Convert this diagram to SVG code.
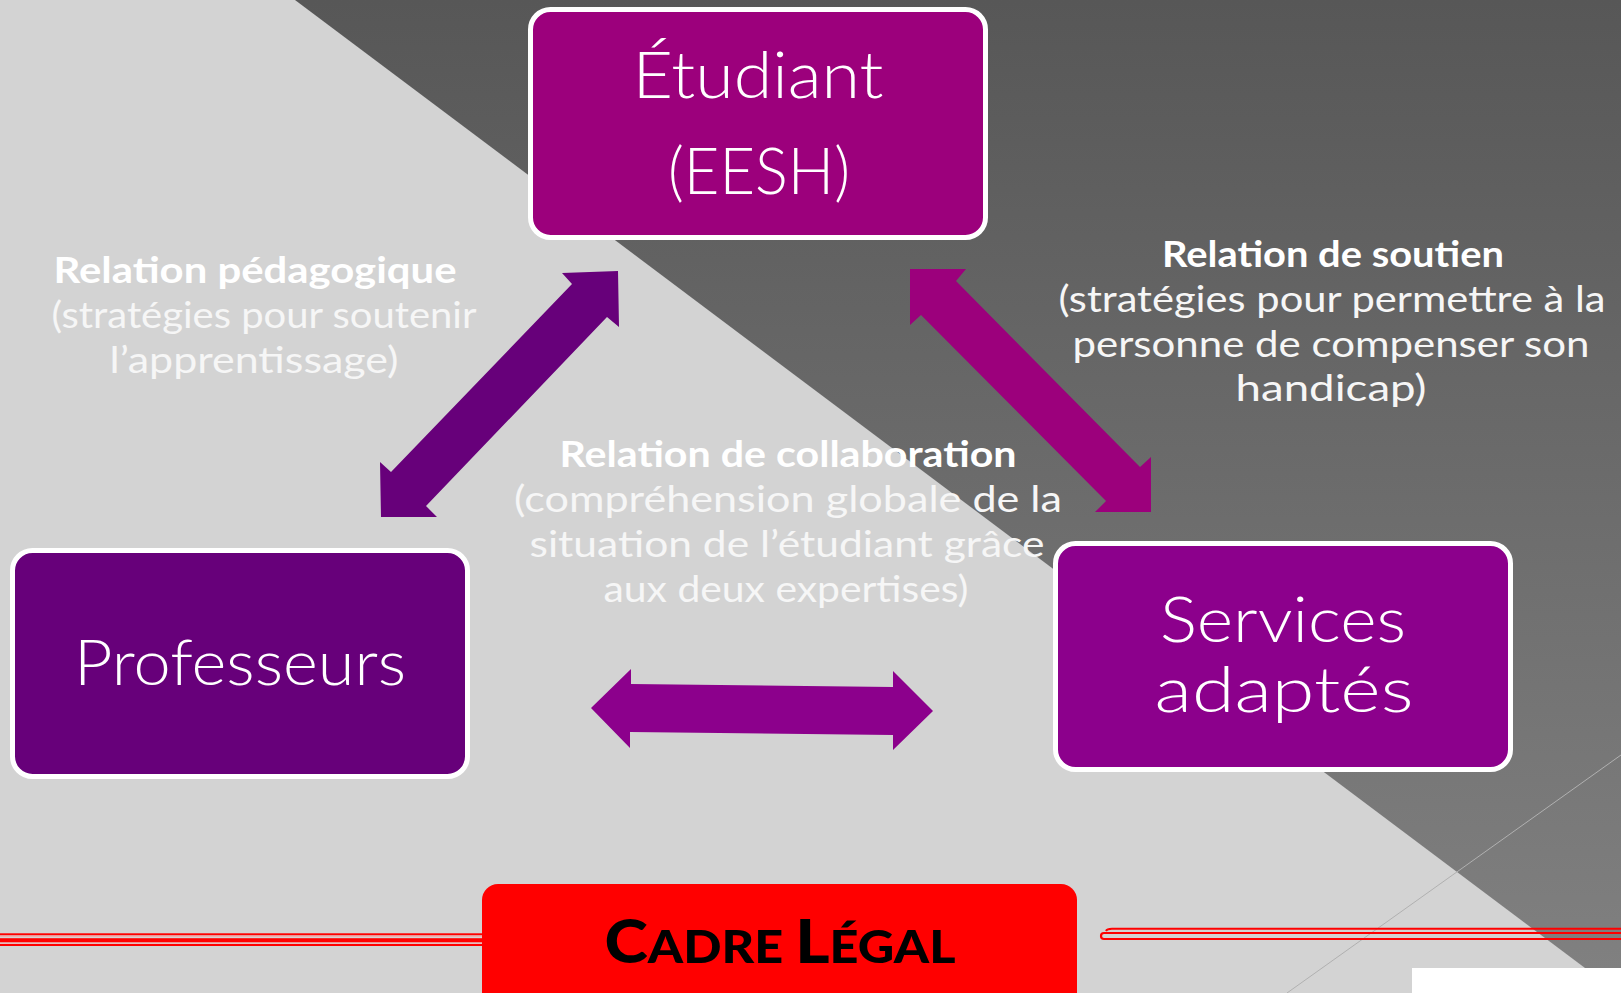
<svg xmlns="http://www.w3.org/2000/svg" width="1621" height="993" viewBox="0 0 1621 993">
  <defs>
    <linearGradient id="darkGrad" gradientUnits="userSpaceOnUse" x1="0" y1="0" x2="0" y2="993">
      <stop offset="0" stop-color="#575757"/>
      <stop offset="1" stop-color="#818181"/>
    </linearGradient>
    <style>
      .box { stroke: #ffffff; stroke-width: 5; }
      .boxtext { font-family: Lato, "Noto Sans", sans-serif; font-weight: 300; fill: #ffffff; text-anchor: middle; }
      .lbl { font-family: Lato, "Noto Sans", sans-serif; font-size: 37px; text-anchor: middle; }
      .lblb { font-weight: 700; fill: #ffffff; }
      .lblr { font-weight: 400; fill: #f6f6f6; }
      .legal { font-family: Lato, "Liberation Sans", sans-serif; font-weight: 900; fill: #000000; text-anchor: middle; }
      .red { fill: #ff0000; }
    </style>
  </defs>

  <!-- background -->
  <g id="background">
    <rect x="0" y="0" width="1621" height="993" fill="#d3d3d3"/>
    <polygon points="295,0 1621,0 1621,995" fill="url(#darkGrad)"/>
    <line x1="1621" y1="755" x2="1287" y2="993" stroke="#b0b0b0" stroke-width="1"/>
    <rect x="1412" y="968" width="209" height="25" fill="#ffffff"/>
  </g>

  <!-- red decorative lines -->
  <g id="red-lines">
    <rect class="red" x="0" y="933.3" width="484" height="2"/>
    <rect x="0" y="935.8" width="484" height="1.2" fill="#f2b0b0"/>
    <rect class="red" x="0" y="938.2" width="484" height="4.2"/>
    <rect x="0" y="942.6" width="484" height="1" fill="#f2b0b0"/>
    <rect class="red" x="0" y="944" width="484" height="2"/>
    <path d="M1621,928.8 H1112 Q1107,928.8 1106,931" fill="none" stroke="#ff0000" stroke-width="2"/>
    <path d="M1621,933 H1104 A3,3 0 0 0 1104,939 H1621" fill="none" stroke="#ff0000" stroke-width="2.2"/>
  </g>

  <!-- nodes -->
  <g id="node-etudiant">
    <rect class="box" x="530.5" y="9.5" width="455" height="228" rx="20" fill="#9c007c"/>
    <text class="boxtext" x="758" y="98" font-size="66" textLength="251" lengthAdjust="spacingAndGlyphs">Étudiant</text>
    <text class="boxtext" x="759" y="194" font-size="66" textLength="182" lengthAdjust="spacingAndGlyphs">(EESH)</text>
  </g>

  <g id="node-professeurs">
    <rect class="box" x="12.5" y="550.5" width="455" height="226" rx="20" fill="#67007a"/>
    <text class="boxtext" x="240" y="685" font-size="64" textLength="332" lengthAdjust="spacingAndGlyphs">Professeurs</text>
  </g>

  <g id="node-services">
    <rect class="box" x="1055.5" y="543.5" width="455" height="226" rx="20" fill="#8c008c"/>
    <text class="boxtext" x="1283" y="642" font-size="64" textLength="246" lengthAdjust="spacingAndGlyphs">Services</text>
    <text class="boxtext" x="1284" y="712" font-size="64" textLength="259" lengthAdjust="spacingAndGlyphs">adaptés</text>
  </g>

  <g id="node-cadre-legal">
    <rect x="482" y="884" width="595" height="130" rx="16" fill="#ff0000"/>
    <text class="legal" x="780" y="963" textLength="351" lengthAdjust="spacingAndGlyphs"><tspan font-size="60">C</tspan><tspan font-size="46">ADRE </tspan><tspan font-size="60">L</tspan><tspan font-size="46">ÉGAL</tspan></text>
  </g>

  <!-- connectors -->
  <g id="connectors">
    <polygon id="arrow-pedagogique" fill="#67007a"
      points="618,271 619,327 607,317 426,506 437,517 381,517 380,462 391,472 572,284 562,273"/>
    <polygon id="arrow-soutien" fill="#9c007c"
      points="910,269 966,269 956,281 1140,467 1151,457 1151,512 1095,512 1106,501 921,315 910,325"/>
    <polygon id="arrow-collaboration" fill="#8c008c"
      points="591,708 631,669 631,684 893,687 893,671 933,711 893,750 893,735 630,732 630,748"/>
  </g>

  <!-- labels -->
  <g id="label-pedagogique" class="lbl">
    <text class="lblb" x="255" y="283" textLength="403" lengthAdjust="spacingAndGlyphs">Relation pédagogique</text>
    <text class="lblr" x="264" y="328" textLength="425" lengthAdjust="spacingAndGlyphs">(stratégies pour soutenir</text>
    <text class="lblr" x="254" y="373" textLength="289" lengthAdjust="spacingAndGlyphs">l’apprentissage)</text>
  </g>

  <g id="label-soutien" class="lbl">
    <text class="lblb" x="1333" y="267" textLength="342" lengthAdjust="spacingAndGlyphs">Relation de soutien</text>
    <text class="lblr" x="1332" y="312" textLength="547" lengthAdjust="spacingAndGlyphs">(stratégies pour permettre à la</text>
    <text class="lblr" x="1331" y="357" textLength="517" lengthAdjust="spacingAndGlyphs">personne de compenser son</text>
    <text class="lblr" x="1331" y="401" textLength="191" lengthAdjust="spacingAndGlyphs">handicap)</text>
  </g>

  <g id="label-collaboration" class="lbl">
    <text class="lblb" x="788" y="467" textLength="457" lengthAdjust="spacingAndGlyphs">Relation de collaboration</text>
    <text class="lblr" x="788" y="512" textLength="548" lengthAdjust="spacingAndGlyphs">(compréhension globale de la</text>
    <text class="lblr" x="787" y="557" textLength="515" lengthAdjust="spacingAndGlyphs">situation de l’étudiant grâce</text>
    <text class="lblr" x="786" y="602" textLength="365" lengthAdjust="spacingAndGlyphs">aux deux expertises)</text>
  </g>
</svg>
